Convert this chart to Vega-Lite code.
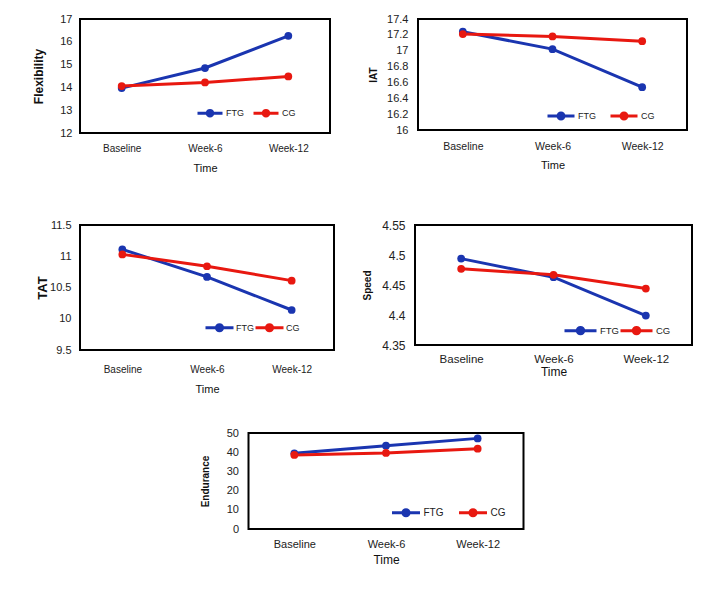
{
  "$schema": "https://vega.github.io/schema/vega-lite/v6.json",
  "background": "white",
  "padding": {"left": 31, "top": 12, "right": 5, "bottom": 5},
  "config": {
    "font": "Liberation Sans",
    "view": {"stroke": "#000000", "strokeWidth": 2},
    "axis": {"grid": false, "ticks": false, "domain": false, "labelColor": "#222222", "titleColor": "#111111"},
    "legend": {"padding": 0, "labelColor": "#222222"}
  },
  "data": {"values": [
    {"m": "Flexibility", "g": "FTG", "t": "Baseline", "v": 13.97},
    {"m": "Flexibility", "g": "FTG", "t": "Week-6", "v": 14.85},
    {"m": "Flexibility", "g": "FTG", "t": "Week-12", "v": 16.26},
    {"m": "Flexibility", "g": "CG", "t": "Baseline", "v": 14.06},
    {"m": "Flexibility", "g": "CG", "t": "Week-6", "v": 14.22},
    {"m": "Flexibility", "g": "CG", "t": "Week-12", "v": 14.48},
    {"m": "IAT", "g": "FTG", "t": "Baseline", "v": 17.24},
    {"m": "IAT", "g": "FTG", "t": "Week-6", "v": 17.02},
    {"m": "IAT", "g": "FTG", "t": "Week-12", "v": 16.54},
    {"m": "IAT", "g": "CG", "t": "Baseline", "v": 17.21},
    {"m": "IAT", "g": "CG", "t": "Week-6", "v": 17.18},
    {"m": "IAT", "g": "CG", "t": "Week-12", "v": 17.12},
    {"m": "TAT", "g": "FTG", "t": "Baseline", "v": 11.11},
    {"m": "TAT", "g": "FTG", "t": "Week-6", "v": 10.67},
    {"m": "TAT", "g": "FTG", "t": "Week-12", "v": 10.14},
    {"m": "TAT", "g": "CG", "t": "Baseline", "v": 11.03},
    {"m": "TAT", "g": "CG", "t": "Week-6", "v": 10.84},
    {"m": "TAT", "g": "CG", "t": "Week-12", "v": 10.61},
    {"m": "Speed", "g": "FTG", "t": "Baseline", "v": 4.494},
    {"m": "Speed", "g": "FTG", "t": "Week-6", "v": 4.463},
    {"m": "Speed", "g": "FTG", "t": "Week-12", "v": 4.399},
    {"m": "Speed", "g": "CG", "t": "Baseline", "v": 4.477},
    {"m": "Speed", "g": "CG", "t": "Week-6", "v": 4.467},
    {"m": "Speed", "g": "CG", "t": "Week-12", "v": 4.444},
    {"m": "Endurance", "g": "FTG", "t": "Baseline", "v": 39.4},
    {"m": "Endurance", "g": "FTG", "t": "Week-6", "v": 43.4},
    {"m": "Endurance", "g": "FTG", "t": "Week-12", "v": 47.2},
    {"m": "Endurance", "g": "CG", "t": "Baseline", "v": 38.6},
    {"m": "Endurance", "g": "CG", "t": "Week-6", "v": 39.6},
    {"m": "Endurance", "g": "CG", "t": "Week-12", "v": 41.8}
  ]},
  "resolve": {"scale": {"color": "independent"}, "legend": {"color": "independent"}},
  "center": true,
  "spacing": 31,
  "vconcat": [
    {
      "resolve": {"scale": {"color": "independent"}, "legend": {"color": "independent"}},
      "spacing": 44,
      "vconcat": [
        {
          "resolve": {"scale": {"color": "independent"}, "legend": {"color": "independent"}},
          "spacing": 36,
          "hconcat": [
            {
              "width": 250, "height": 114,
              "transform": [{"filter": "datum.m === 'Flexibility'"}],
              "encoding": {
                "x": {"field": "t", "type": "nominal", "sort": ["Baseline", "Week-6", "Week-12"], "scale": {"type": "point", "padding": 0.5},
                  "axis": {"title": "Time", "labelAngle": 0, "labelFontSize": 10, "labelPadding": 10, "titleFontSize": 11, "titleFontWeight": "normal", "titlePadding": 9}},
                "y": {"field": "v", "type": "quantitative", "scale": {"domain": [12, 17], "zero": false, "nice": false},
                  "axis": {"title": "Flexibility", "values": [12, 13, 14, 15, 16, 17], "format": "d", "labelFontSize": 11, "labelPadding": 8, "titleFontSize": 12, "titleFontWeight": "bold", "titlePadding": 14}},
                "color": {"field": "g", "type": "nominal", "scale": {"domain": ["FTG", "CG"], "range": ["#1A35B0", "#E81810"]},
                  "legend": {"title": null, "orient": "none", "legendX": 116, "legendY": 80, "direction": "horizontal", "symbolType": "M-1,0H1M0.22,0A0.22,0.22,0,1,1,-0.22,0A0.22,0.22,0,1,1,0.22,0", "symbolSize": 625, "symbolStrokeWidth": 3, "labelFontSize": 9, "labelOffset": 2, "columnPadding": 3}}
              },
              "layer": [
                {"mark": {"type": "line", "strokeWidth": 3}},
                {"mark": {"type": "point", "filled": true, "size": 60, "opacity": 1}}
              ]
            },
            {
              "width": 269, "height": 111,
              "transform": [{"filter": "datum.m === 'IAT'"}],
              "encoding": {
                "x": {"field": "t", "type": "nominal", "sort": ["Baseline", "Week-6", "Week-12"], "scale": {"type": "point", "padding": 0.5},
                  "axis": {"title": "Time", "labelAngle": 0, "labelFontSize": 10.5, "labelPadding": 11, "titleFontSize": 11, "titleFontWeight": "normal", "titlePadding": 8}},
                "y": {"field": "v", "type": "quantitative", "scale": {"domain": [16, 17.4], "zero": false, "nice": false},
                  "axis": {"title": "IAT", "values": [16, 16.2, 16.4, 16.6, 16.8, 17, 17.2, 17.4], "format": "~g", "labelFontSize": 11, "labelPadding": 10, "titleFontSize": 10, "titleFontWeight": "bold", "titlePadding": 8}},
                "color": {"field": "g", "type": "nominal", "scale": {"domain": ["FTG", "CG"], "range": ["#1A35B0", "#E81810"]},
                  "legend": {"title": null, "orient": "none", "legendX": 128, "legendY": 82, "direction": "horizontal", "symbolType": "M-1,0H1M0.22,0A0.22,0.22,0,1,1,-0.22,0A0.22,0.22,0,1,1,0.22,0", "symbolSize": 729, "symbolStrokeWidth": 3, "labelFontSize": 9, "labelOffset": 2, "columnPadding": 8}}
              },
              "layer": [
                {"mark": {"type": "line", "strokeWidth": 3}},
                {"mark": {"type": "point", "filled": true, "size": 60, "opacity": 1}}
              ]
            }
          ]
        },
        {
          "resolve": {"scale": {"color": "independent"}, "legend": {"color": "independent"}},
          "spacing": 26,
          "hconcat": [
            {
              "width": 254, "height": 125,
              "transform": [{"filter": "datum.m === 'TAT'"}],
              "encoding": {
                "x": {"field": "t", "type": "nominal", "sort": ["Baseline", "Week-6", "Week-12"], "scale": {"type": "point", "padding": 0.5},
                  "axis": {"title": "Time", "labelAngle": 0, "labelFontSize": 10, "labelPadding": 14, "titleFontSize": 11, "titleFontWeight": "normal", "titlePadding": 9}},
                "y": {"field": "v", "type": "quantitative", "scale": {"domain": [9.5, 11.5], "zero": false, "nice": false},
                  "axis": {"title": "TAT", "values": [9.5, 10, 10.5, 11, 11.5], "format": "~g", "labelFontSize": 11, "labelPadding": 9, "titleFontSize": 13, "titleFontWeight": "bold", "titlePadding": 0}},
                "color": {"field": "g", "type": "nominal", "scale": {"domain": ["FTG", "CG"], "range": ["#1A35B0", "#E81810"]},
                  "legend": {"title": null, "orient": "none", "legendX": 124, "legendY": 87, "direction": "horizontal", "symbolType": "M-1,0H1M0.22,0A0.22,0.22,0,1,1,-0.22,0A0.22,0.22,0,1,1,0.22,0", "symbolSize": 784, "symbolStrokeWidth": 3, "labelFontSize": 9, "labelOffset": 1, "columnPadding": -5}}
              },
              "layer": [
                {"mark": {"type": "line", "strokeWidth": 3}},
                {"mark": {"type": "point", "filled": true, "size": 60, "opacity": 1}}
              ]
            },
            {
              "width": 277, "height": 120,
              "transform": [{"filter": "datum.m === 'Speed'"}],
              "encoding": {
                "x": {"field": "t", "type": "nominal", "sort": ["Baseline", "Week-6", "Week-12"], "scale": {"type": "point", "padding": 0.5},
                  "axis": {"title": "Time", "labelAngle": 0, "labelFontSize": 11.5, "labelPadding": 8, "titleFontSize": 12, "titleFontWeight": "normal", "titlePadding": 2}},
                "y": {"field": "v", "type": "quantitative", "scale": {"domain": [4.35, 4.55], "zero": false, "nice": false},
                  "axis": {"title": "Speed", "values": [4.35, 4.4, 4.45, 4.5, 4.55], "format": "~g", "labelFontSize": 12, "labelPadding": 10, "titleFontSize": 10, "titleFontWeight": "bold", "titlePadding": 9}},
                "color": {"field": "g", "type": "nominal", "scale": {"domain": ["FTG", "CG"], "range": ["#1A35B0", "#E81810"]},
                  "legend": {"title": null, "orient": "none", "legendX": 148, "legendY": 88, "direction": "horizontal", "symbolType": "M-1,0H1M0.2,0A0.2,0.2,0,1,1,-0.2,0A0.2,0.2,0,1,1,0.2,0", "symbolSize": 1024, "symbolStrokeWidth": 3, "labelFontSize": 9.5, "labelOffset": 2, "columnPadding": -6}}
              },
              "layer": [
                {"mark": {"type": "line", "strokeWidth": 3}},
                {"mark": {"type": "point", "filled": true, "size": 60, "opacity": 1}}
              ]
            }
          ]
        }
      ]
    },
    {
      "width": 275, "height": 96,
      "transform": [{"filter": "datum.m === 'Endurance'"}],
      "encoding": {
        "x": {"field": "t", "type": "nominal", "sort": ["Baseline", "Week-6", "Week-12"], "scale": {"type": "point", "padding": 0.5},
          "axis": {"title": "Time", "labelAngle": 0, "labelFontSize": 11, "labelPadding": 9, "titleFontSize": 12, "titleFontWeight": "normal", "titlePadding": 5}},
        "y": {"field": "v", "type": "quantitative", "scale": {"domain": [0, 50], "nice": false},
          "axis": {"title": "Endurance", "values": [0, 10, 20, 30, 40, 50], "format": "d", "labelFontSize": 11, "labelPadding": 10, "titleFontSize": 10, "titleFontWeight": "bold", "titlePadding": 16}},
        "color": {"field": "g", "type": "nominal", "scale": {"domain": ["FTG", "CG"], "range": ["#1A35B0", "#E81810"]},
          "legend": {"title": null, "orient": "none", "legendX": 142, "legendY": 64, "direction": "horizontal", "symbolType": "M-1,0H1M0.22,0A0.22,0.22,0,1,1,-0.22,0A0.22,0.22,0,1,1,0.22,0", "symbolSize": 784, "symbolStrokeWidth": 3, "labelFontSize": 10, "labelOffset": 2, "columnPadding": 9}}
      },
      "layer": [
        {"mark": {"type": "line", "strokeWidth": 3}},
        {"mark": {"type": "point", "filled": true, "size": 60, "opacity": 1}}
      ]
    }
  ]
}
